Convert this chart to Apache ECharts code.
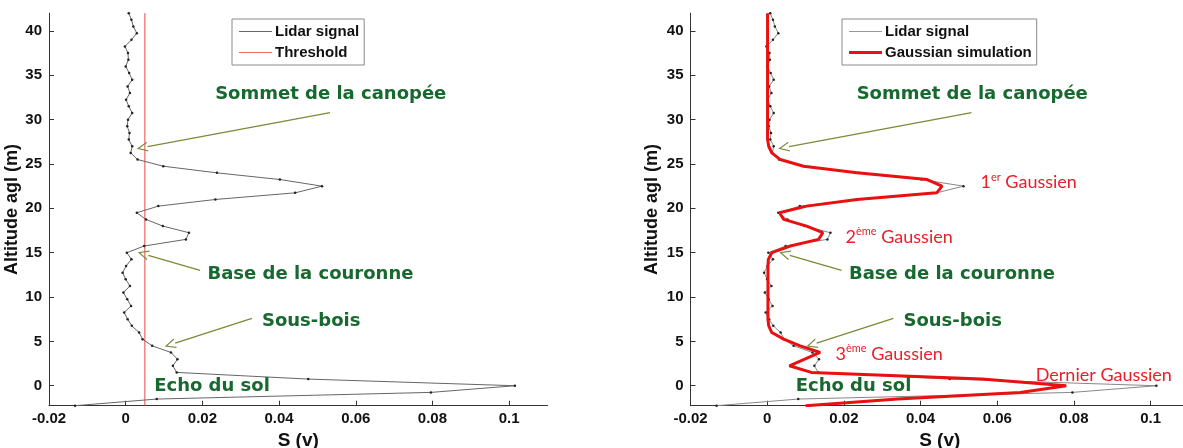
<!DOCTYPE html>
<html>
<head>
<meta charset="utf-8">
<script src="https://cdn.jsdelivr.net/npm/echarts@6/dist/echarts.min.js"></script>
<style>
  html, body { margin: 0; padding: 0; background: #fff; }
  #chart { width: 1183px; height: 448px; }
</style>
</head>
<body>
<div id="chart"></div>
<script>
// Altitude above ground (m) of each lidar sample
const ALTITUDE = [-2.25, -1.5, -0.75, 0, 0.75, 1.5, 2.25, 3, 3.75, 4.5, 5.25, 6,
  6.75, 7.5, 8.25, 9, 9.75, 10.5, 11.25, 12, 12.75, 13.5, 14.25, 15,
  15.75, 16.5, 17.25, 18, 18.75, 19.5, 20.25, 21, 21.75, 22.5, 23.25, 24,
  24.75, 25.5, 26.25, 27, 27.75, 28.5, 29.25, 30, 30.75, 31.5, 32.25, 33,
  33.75, 34.5, 35.25, 36, 36.75, 37.5, 38.25, 39, 39.75, 40.5, 41.25, 42];

// Measured lidar signal S (v)
const LIDAR_SIGNAL = [-0.0132, 0.0081, 0.0796, 0.1015, 0.0476, 0.0133, 0.0123, 0.0135,
  0.0118, 0.0069, 0.0044, 0.0035, 0.0016, 0.0005, -0.0004, 0.0014,
  0.0004, -0.0006, 0.0011, 0.0000, -0.0008, 0.0001, 0.0015, 0.0003,
  0.0048, 0.0157, 0.0165, 0.0097, 0.0053, 0.0029, 0.0085, 0.0234,
  0.0442, 0.0512, 0.0402, 0.0238, 0.0098, 0.0031, 0.0013, 0.0017,
  0.0008, 0.0010, 0.0004, 0.0006, 0.0017, 0.0008, 0.0001, 0.0011,
  0.0005, 0.0017, 0.0009, 0.0000, 0.0007, 0.0006, -0.0002, 0.0015,
  0.0029, 0.0020, 0.0015, 0.0008];

// Sum of fitted Gaussians S (v)
const GAUSSIAN_SIM = [0.0100, 0.0340, 0.0660, 0.0780, 0.0560, 0.0115, 0.0058, 0.0098,
  0.0138, 0.0086, 0.0043, 0.0012, 0.0004, 0.0002, 0.0002, 0.0002,
  0.0002, 0.0002, 0.0002, 0.0002, 0.0002, 0.0002, 0.0003, 0.0012,
  0.0060, 0.0134, 0.0145, 0.0103, 0.0043, 0.0032, 0.0103, 0.0234,
  0.0442, 0.0456, 0.0417, 0.0234, 0.0095, 0.0034, 0.0012, 0.0004,
  0.0001, 0.0001, 0.0001, 0.0001, 0.0001, 0.0001, 0.0001, 0.0001,
  0.0001, 0.0001, 0.0001, 0.0001, 0.0001, 0.0001, 0.0001, 0.0001,
  0.0001, 0.0001, 0.0001, 0.0001];

// Detection threshold S (v)
const THRESHOLD = 0.005;

// Axis ranges and ticks
const S_RANGE = [-0.02, 0.11];
const ALT_RANGE = [-2.25, 42];
const S_TICKS = [-0.02, 0, 0.02, 0.04, 0.06, 0.08, 0.1];
const ALT_TICKS = [0, 5, 10, 15, 20, 25, 30, 35, 40];

// Annotations: [S, altitude]
const ZONE_LABELS = [
  { name: 'Sommet de la canopée', at: [0.0232, 32.9] },
  { name: 'Base de la couronne', at: [0.0212, 12.6] },
  { name: 'Sous-bois', at: [0.0354, 7.3] },
  { name: 'Echo du sol', at: [0.0073, -0.1] }
];
const ZONE_ARROWS = [
  { from: [0.0533, 30.8], to: [0.0057, 26.95] },
  { from: [0.0194, 13.0], to: [0.0059, 14.7] },
  { from: [0.0329, 7.6], to: [0.0129, 4.8] }
];
const GAUSS_LABELS = [
  { name: '1{s|er} Gaussien', at: [0.0555, 22.95] },
  { name: '2{s|ème} Gaussien', at: [0.0203, 16.8] },
  { name: '3{s|ème} Gaussien', at: [0.0177, 3.6] },
  { name: 'Dernier Gaussien', at: [0.0699, 1.2] }
];

const pairs = (xs) => ALTITUDE.map((a, i) => [xs[i], a]);
const fmtS = (v) => String(+v.toFixed(2));

const AXIS_FONT = { fontFamily: 'Liberation Sans, Arial, sans-serif', fontWeight: 'bold', color: '#111' };
const GREEN = '#17692f';
const OLIVE = '#7b8a38';
const RED_TEXT = '#e8202a';
const ARROW = 'path://M5,0L10,11L8.7,11L5,2.8L1.3,11L0,11ZM5,22L5.01,22L5,22.01Z';

function xAxis(gridIndex) {
  return {
    type: 'value', gridIndex, min: S_RANGE[0], max: S_RANGE[1],
    name: 'S (v)', nameLocation: 'middle', nameGap: 21,
    nameTextStyle: Object.assign({ fontSize: 19 }, AXIS_FONT),
    axisLine: { show: true, onZero: false, lineStyle: { color: '#333', width: 1 } },
    axisTick: { show: true, inside: true, length: 5, customValues: S_TICKS, lineStyle: { color: '#333' } },
    axisLabel: Object.assign({ fontSize: 15, margin: 6, customValues: S_TICKS, formatter: fmtS }, AXIS_FONT),
    splitLine: { show: false }
  };
}
function yAxis(gridIndex, gap) {
  return {
    type: 'value', gridIndex, min: ALT_RANGE[0], max: ALT_RANGE[1],
    name: 'Altitude agl (m)', nameLocation: 'middle', nameGap: gap,
    nameTextStyle: Object.assign({ fontSize: 18 }, AXIS_FONT),
    axisLine: { show: true, onZero: false, lineStyle: { color: '#333', width: 1 } },
    axisTick: { show: true, inside: true, length: 5, customValues: ALT_TICKS, lineStyle: { color: '#333' } },
    axisLabel: Object.assign({ fontSize: 15, margin: 7, customValues: ALT_TICKS }, AXIS_FONT),
    splitLine: { show: false }
  };
}

function zoneMarks() {
  return {
    markLine: {
      silent: true, animation: false,
      symbol: ['none', ARROW], symbolSize: [10, 22],
      label: { show: false },
      lineStyle: { color: OLIVE, width: 1.3, type: 'solid' },
      emphasis: { disabled: true },
      data: ZONE_ARROWS.map(a => [{ coord: a.from }, { coord: a.to }])
    },
    markPoint: {
      silent: true, animation: false,
      symbol: 'circle', symbolSize: 1,
      itemStyle: { color: 'rgba(0,0,0,0)' },
      label: {
        show: true, position: 'right', distance: 0, formatter: '{b}',
        fontFamily: 'DejaVu Sans, sans-serif', fontWeight: 'bold', fontSize: 18, color: GREEN
      },
      data: ZONE_LABELS.map(z => ({ name: z.name, coord: z.at }))
    }
  };
}

function legend(left, names) {
  return {
    left, top: 19, orient: 'vertical',
    padding: [5, 5, 5, 7], itemGap: 6, itemWidth: 33, itemHeight: 14,
    borderColor: '#8a8a8a', borderWidth: 1, backgroundColor: '#fff',
    textStyle: { fontFamily: 'Liberation Sans, Arial, sans-serif', fontWeight: 'bold', fontSize: 15, color: '#111', padding: [0, 0, 0, -2] },
    selectedMode: false,
    data: names
  };
}

const chart = echarts.init(document.getElementById('chart'), null, { renderer: 'canvas' });
chart.setOption({
  animation: false,
  backgroundColor: '#fff',
  grid: [
    { left: 49, top: 13.2, width: 498.5, height: 392.5, outerBoundsMode: 'none', containLabel: false },
    { left: 690.5, top: 13.2, width: 498.5, height: 392.5, outerBoundsMode: 'none', containLabel: false }
  ],
  xAxis: [xAxis(0), xAxis(1)],
  yAxis: [yAxis(0, 26), yAxis(1, 29)],
  legend: [
    legend(232, [
      { name: 'Lidar signal', icon: 'path://M0,0H33V1H0Z', itemStyle: { color: '#666' } },
      { name: 'Threshold', icon: 'path://M0,0H33V1H0Z', itemStyle: { color: '#f06a6a' } }
    ]),
    legend(842, [
      { name: 'Lidar signal ', icon: 'path://M0,0H33V1.2H0Z', itemStyle: { color: '#999' } },
      { name: 'Gaussian simulation', icon: 'path://M0,0H33V3H0Z', itemStyle: { color: '#e81010' } }
    ])
  ],
  series: [
    Object.assign({
      name: 'Lidar signal', type: 'line', xAxisIndex: 0, yAxisIndex: 0,
      data: pairs(LIDAR_SIGNAL),
      symbol: 'circle', symbolSize: 2.5, showSymbol: true,
      itemStyle: { color: '#222' },
      lineStyle: { color: '#666', width: 1 },
      emphasis: { disabled: true }, z: 3
    }, zoneMarks()),
    {
      name: 'Threshold', type: 'line', xAxisIndex: 0, yAxisIndex: 0,
      data: [[THRESHOLD, ALT_RANGE[0]], [THRESHOLD, ALT_RANGE[1]]],
      symbol: 'none', lineStyle: { color: '#e84848', width: 1 },
      itemStyle: { color: '#e84848' },
      emphasis: { disabled: true }, z: 2
    },
    Object.assign({
      name: 'Lidar signal ', type: 'line', xAxisIndex: 1, yAxisIndex: 1,
      data: pairs(LIDAR_SIGNAL),
      symbol: 'circle', symbolSize: 2.5, showSymbol: true,
      itemStyle: { color: '#222' },
      lineStyle: { color: '#888', width: 1 },
      emphasis: { disabled: true }, z: 3
    }, zoneMarks()),
    {
      name: 'Gaussian simulation', type: 'line', xAxisIndex: 1, yAxisIndex: 1,
      data: pairs(GAUSSIAN_SIM),
      symbol: 'none', lineStyle: { color: '#e81010', width: 3 },
      itemStyle: { color: '#e81010' },
      emphasis: { disabled: true }, z: 4,
      markPoint: {
        silent: true, animation: false,
        symbol: 'circle', symbolSize: 1,
        itemStyle: { color: 'rgba(0,0,0,0)' },
        label: {
          show: true, position: 'right', distance: 0, formatter: '{b}',
          fontFamily: 'Lato, Open Sans, sans-serif', fontSize: 18, color: RED_TEXT,
          rich: { s: { fontFamily: 'Lato, Open Sans, sans-serif', fontSize: 11, color: RED_TEXT, verticalAlign: 'top', padding: [0, 0, 10, 0] } }
        },
        data: GAUSS_LABELS.map(g => ({ name: g.name, coord: g.at }))
      }
    }
  ]
});
</script>
</body>
</html>
